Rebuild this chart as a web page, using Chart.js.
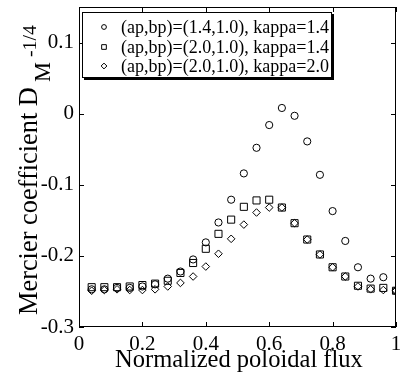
<!DOCTYPE html>
<html><head><meta charset="utf-8">
<script src="https://cdn.jsdelivr.net/npm/chart.js@4/dist/chart.umd.min.js"></script>
<style>html,body{margin:0;padding:0;background:#fff}#w{width:402px;height:376px}</style>
</head><body><div id="w"><canvas id="c" width="402" height="376"></canvas></div>
<script>
const xFlux = [0.04,0.08,0.12,0.16,0.20,0.24,0.28,0.32,0.36,0.40,0.44,0.48,0.52,0.56,0.60,0.64,0.68,0.72,0.76,0.80,0.84,0.88,0.92,0.96,1.00];
const seriesA = [-0.247,-0.247,-0.245,-0.245,-0.243,-0.240,-0.232,-0.222,-0.205,-0.181,-0.153,-0.121,-0.084,-0.048,-0.016,0.008,-0.003,-0.039,-0.086,-0.137,-0.179,-0.216,-0.232,-0.230,-0.249];
const seriesB = [-0.244,-0.244,-0.244,-0.243,-0.241,-0.239,-0.235,-0.224,-0.210,-0.190,-0.169,-0.149,-0.131,-0.122,-0.121,-0.132,-0.154,-0.177,-0.198,-0.216,-0.229,-0.242,-0.246,-0.245,-0.249];
const seriesC = [-0.249,-0.248,-0.247,-0.248,-0.248,-0.247,-0.243,-0.238,-0.229,-0.215,-0.197,-0.176,-0.156,-0.139,-0.132,-0.132,-0.154,-0.177,-0.198,-0.216,-0.229,-0.243,-0.247,-0.248,-0.249];
const seriesNames = ["(ap,bp)=(1.4,1.0), kappa=1.4","(ap,bp)=(2.0,1.0), kappa=1.4","(ap,bp)=(2.0,1.0), kappa=2.0"];
const xTicks = [0,0.2,0.4,0.6,0.8,1];
const yTicks = [-0.3,-0.2,-0.1,0,0.1];
const xTitle = "Normalized poloidal flux";
const yTitleMain = "Mercier coefficient D";
const yTitleSub = "M";
const yTitleTail = "-1/4";

const FONT = '"Liberation Serif","Times New Roman",serif';
const styles = ['circle','rect','rectRot'];
const radii = [3.6,5,3.8];
const legendRadii = [2.4,3.3,2.9];

function fitFont(ctx, text, target){
  ctx.font='20px '+FONT;
  const w=ctx.measureText(text).width;
  return 20*target/w;
}
function noPad(ax){ax.paddingTop=0;ax.paddingBottom=0;ax.paddingLeft=0;ax.paddingRight=0;}

const frame = {
  id:'frame',
  afterDraw(chart){
    const {ctx, chartArea:a, scales:{x,y}} = chart;
    ctx.save();
    ctx.strokeStyle='#000'; ctx.lineWidth=1;
    ctx.strokeRect(a.left+0.5,a.top+0.5,a.right-a.left-1,a.bottom-a.top-1);
    const tl=5;
    ctx.beginPath();
    xTicks.forEach(v=>{const px=Math.round(x.getPixelForValue(v))+0.5;
      ctx.moveTo(px,a.bottom);ctx.lineTo(px,a.bottom-tl);
      ctx.moveTo(px,a.top);ctx.lineTo(px,a.top+tl);});
    yTicks.forEach(v=>{const py=Math.round(y.getPixelForValue(v))+0.5;
      ctx.moveTo(a.left,py);ctx.lineTo(a.left+tl,py);
      ctx.moveTo(a.right,py);ctx.lineTo(a.right-tl,py);});
    ctx.stroke();
    // legend
    const lx=82, ly=12, lw=250, lh=66;
    ctx.fillStyle='#000'; ctx.fillRect(lx+2,ly+2,lw,lh);
    ctx.fillStyle='#fff'; ctx.fillRect(lx,ly,lw,lh);
    ctx.strokeRect(lx+0.5,ly+0.5,lw-1,lh-1);
    const rows=[27,47,66];
    const lfs=fitFont(ctx,seriesNames[0],208);
    seriesNames.forEach((n,i)=>{
      ctx.fillStyle='rgba(0,0,0,0)'; ctx.strokeStyle='#000'; ctx.lineWidth=1;
      Chart.helpers.drawPoint(ctx,{pointStyle:styles[i],radius:legendRadii[i],borderWidth:1},104,rows[i]);
      ctx.font=lfs+'px '+FONT; ctx.fillStyle='#000'; ctx.textBaseline='middle'; ctx.textAlign='left';
      ctx.fillText(n,121,rows[i]+1);
    });
    // x title
    ctx.fillStyle='#000';
    const fx=fitFont(ctx,xTitle,248);
    ctx.font=fx+'px '+FONT; ctx.textAlign='left'; ctx.textBaseline='alphabetic';
    ctx.fillText(xTitle,115,367);
    // y title (rotated)
    const f1=fitFont(ctx,yTitleMain,228), f2=fitFont(ctx,yTitleSub,20), f3=fitFont(ctx,yTitleTail,32);
    ctx.translate(37,315); ctx.rotate(-Math.PI/2);
    ctx.textAlign='left';
    ctx.font=f1+'px '+FONT;
    ctx.fillText(yTitleMain,0,0);
    ctx.font=f2+'px '+FONT;
    ctx.fillText(yTitleSub,233,13);
    ctx.font=f3+'px '+FONT;
    ctx.fillText(yTitleTail,258,-1);
    ctx.restore();
  }
};

new Chart(document.getElementById('c'),{
  type:'scatter',
  data:{datasets:[seriesA,seriesB,seriesC].map((s,i)=>({
    label:seriesNames[i],
    data:s.map((v,j)=>({x:xFlux[j],y:v})),
    pointStyle:styles[i], pointRadius:radii[i], pointBorderWidth:1,
    borderColor:'#000', backgroundColor:'rgba(0,0,0,0)', showLine:false
  }))},
  options:{
    responsive:false, animation:false, devicePixelRatio:1,
    layout:{padding:{top:7,right:4,left:0,bottom:0}},
    plugins:{legend:{display:false},tooltip:{enabled:false}},
    scales:{
      x:{type:'linear',min:0,max:1,
        afterBuildTicks(ax){ax.ticks=xTicks.map(v=>({value:v}));},
        afterFit(ax){ax.height=49;noPad(ax);},
        grid:{display:false,drawTicks:false}, border:{display:false},
        ticks:{font:{family:FONT,size:21},color:'#000',padding:5,maxRotation:0,autoSkip:false,
          callback:v=>String(+v.toFixed(2))}},
      y:{type:'linear',min:-0.3,max:0.15,
        afterBuildTicks(ax){ax.ticks=yTicks.map(v=>({value:v}));},
        afterFit(ax){ax.width=79;noPad(ax);},
        grid:{display:false,drawTicks:false}, border:{display:false},
        ticks:{font:{family:FONT,size:21},color:'#000',padding:5,autoSkip:false,
          callback:v=>String(+v.toFixed(2))}}
    }
  },
  plugins:[frame]
});
</script></body></html>
